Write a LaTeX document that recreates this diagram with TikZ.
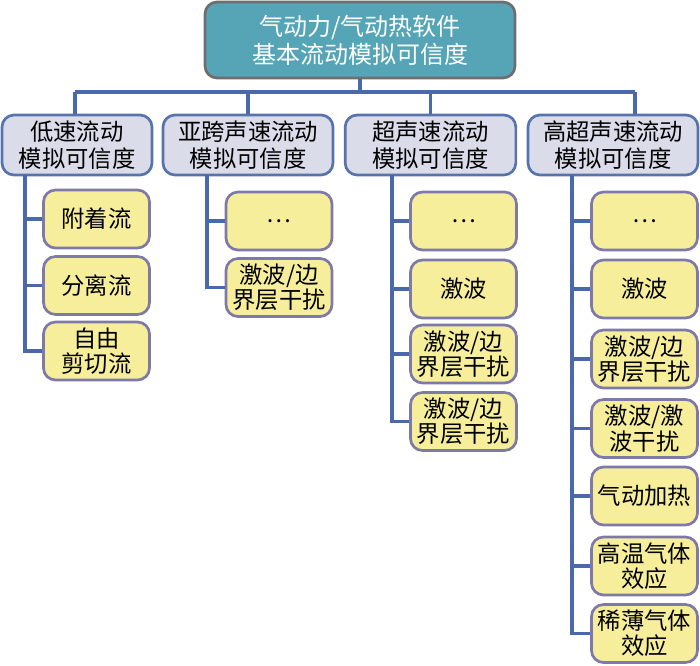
\documentclass[tikz,border=0pt]{standalone}
\usepackage{fontspec}
\setmainfont{Noto Sans CJK SC}
\definecolor{rootfill}{HTML}{55A5B6}
\definecolor{rootline}{HTML}{6E6E6E}
\definecolor{groupfill}{HTML}{DADCEA}
\definecolor{groupline}{HTML}{5673AC}
\definecolor{itemfill}{HTML}{F7EE9C}
\definecolor{itemline}{HTML}{7D79A8}
\definecolor{linkline}{HTML}{4A69AD}
\begin{document}
\begin{tikzpicture}[x=0.75pt,y=0.75pt,yscale=-1,xscale=1,
    rootbox/.style={draw=rootline,fill=rootfill,line width=2pt,rounded corners=9pt,
      minimum width=232.5pt,minimum height=57pt,align=center,text=white,
      font=\fontsize{18}{21}\selectfont,inner sep=0pt},
    groupbox/.style={draw=groupline,fill=groupfill,line width=2pt,rounded corners=9pt,
      minimum height=45pt,align=center,font=\fontsize{17.5}{20}\selectfont,inner sep=0pt},
    itembox/.style={draw=itemline,fill=itemfill,line width=2pt,rounded corners=9pt,
      minimum width=79.5pt,minimum height=43.5pt,align=center,
      font=\fontsize{17.5}{19}\selectfont,inner sep=0pt},
    link/.style={draw=linkline,line width=2.6pt}]
        \useasboundingbox (0,0) rectangle (700,665);

        % Root
        \node [rootbox] (root) at (360,40) {气动力/气动热软件\\基本流动模拟可信度};

        % Groups
        \node [groupbox,minimum width=112.5pt] (low) at (77,145) {低速流动\\模拟可信度};
        \node [groupbox,minimum width=127.5pt] (trans) at (248,145) {亚跨声速流动\\模拟可信度};
        \node [groupbox,minimum width=128pt] (super) at (430.5,145) {超声速流动\\模拟可信度};
        \node [groupbox,minimum width=127.5pt] (hyper) at (613,145) {高超声速流动\\模拟可信度};

        % Bus
        \coordinate (bus) at (360,92);
        \coordinate (busL) at (75,92);
        \coordinate (busR) at (635,92);
        \draw [link] (root.south) -- (bus);
        \draw [link] (busL) -- (busR);
        \draw [link] (busL) -- (busL |- low.north);
        \draw [link] (trans.north) -- (trans.north |- bus);
        \draw [link] (super.north) -- (super.north |- bus);
        \draw [link] (busR) -- (busR |- hyper.north);

        % Low speed items
        \node [itembox] (low1) at (96.5,219) {附着流};
        \node [itembox] (low2) at (96.5,285.5) {分离流};
        \node [itembox] (low3) at (96.5,351) {自由\\剪切流};
        \coordinate (spineA) at (25,175);
        \foreach \n in {low1,low2,low3}
            \draw [link] (spineA) |- (\n.west);

        % Transonic items
        \node [itembox] (trans1) at (279,221) {…};
        \node [itembox] (trans2) at (279,287.5) {激波/边\\界层干扰};
        \coordinate (spineB) at (207,175);
        \foreach \n in {trans1,trans2}
            \draw [link] (spineB) |- (\n.west);

        % Supersonic items
        \node [itembox] (super1) at (463.5,221) {…};
        \node [itembox] (super2) at (463.5,289) {激波};
        \node [itembox] (super3) at (463.5,354) {激波/边\\界层干扰};
        \node [itembox] (super4) at (463.5,421.5) {激波/边\\界层干扰};
        \coordinate (spineC) at (392,175);
        \foreach \n in {super1,super2,super3,super4}
            \draw [link] (spineC) |- (\n.west);

        % Hypersonic items
        \node [itembox] (hyper1) at (644.5,221) {…};
        \node [itembox] (hyper2) at (644.5,289) {激波};
        \node [itembox] (hyper3) at (644.5,359) {激波/边\\界层干扰};
        \node [itembox] (hyper4) at (644.5,428.5) {激波/激\\波干扰};
        \node [itembox] (hyper5) at (644.5,496) {气动加热};
        \node [itembox] (hyper6) at (644.5,566) {高温气体\\效应};
        \node [itembox] (hyper7) at (644.5,633.5) {稀薄气体\\效应};
        \coordinate (spineD) at (572,175);
        \foreach \n in {hyper1,hyper2,hyper3,hyper4,hyper5,hyper6,hyper7}
            \draw [link] (spineD) |- (\n.west);

\end{tikzpicture}
\end{document}
